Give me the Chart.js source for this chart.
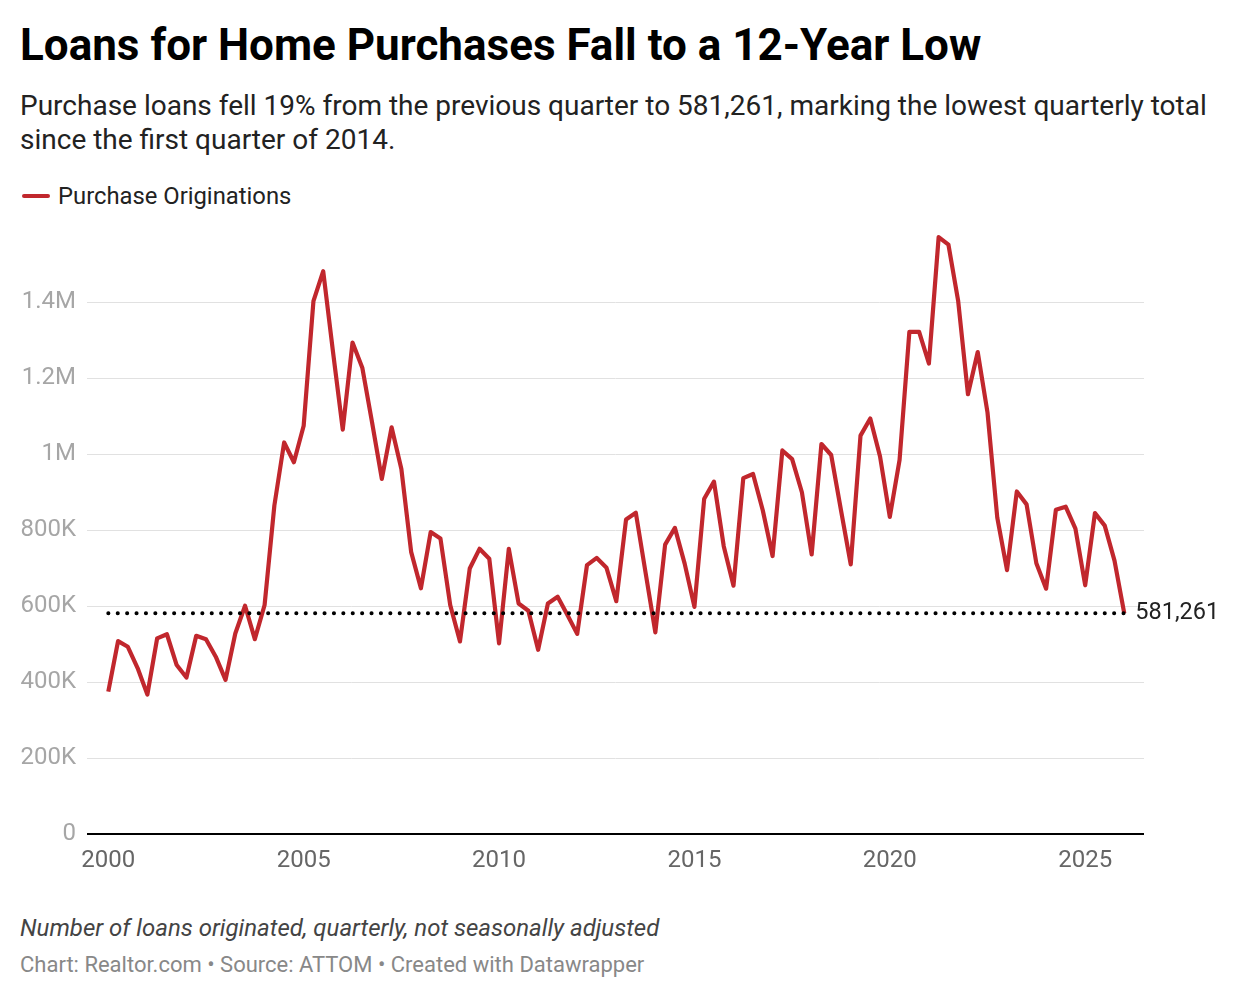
<!DOCTYPE html>
<html>
<head>
<meta charset="utf-8">
<script src="https://cdn.jsdelivr.net/npm/chart.js@4.4.1/dist/chart.umd.min.js"></script>
<style>
  html, body { margin: 0; padding: 0; background: #fff; }
  body { width: 1240px; height: 998px; position: relative; font-family: Roboto, "Noto Sans", sans-serif; overflow: hidden; }
  #title { position: absolute; left: 20px; top: 19px; font-size: 44px; line-height: 52px; font-weight: 700; color: #000; white-space: nowrap; }
  #subtitle { position: absolute; left: 20px; top: 89px; width: 1215px; font-size: 28px; line-height: 34px; color: #222; }
  #legend { position: absolute; left: 22px; top: 182px; font-size: 23.8px; line-height: 28px; color: #222; display: flex; align-items: center; }
  #legend .swatch { width: 28px; height: 4px; background: #c1272d; margin-right: 8px; border-radius: 2px; }
  #wrap { position: absolute; left: 0; top: 201px; width: 1240px; height: 690px; }
  #notes { position: absolute; left: 20px; top: 914px; font-size: 24px; line-height: 28px; font-style: italic; color: #444; }
  #source { position: absolute; left: 20px; top: 952px; font-size: 22px; line-height: 26px; color: #888; }
</style>
</head>
<body>
<div id="title">Loans for Home Purchases Fall to a 12-Year Low</div>
<div id="subtitle">Purchase loans fell 19% from the previous quarter to 581,261, marking the lowest quarterly total since the first quarter of 2014.</div>
<div id="legend"><span class="swatch"></span>Purchase Originations</div>
<div id="wrap"><canvas id="chart" width="1240" height="690"></canvas></div>
<div id="notes">Number of loans originated, quarterly, not seasonally adjusted</div>
<div id="source">Chart: Realtor.com • Source: ATTOM • Created with Datawrapper</div>

<script>
// Quarterly purchase originations, starting Q1 2000 (thousands)
const startYear = 2000;
const originations = [
  375, 508, 493, 437, 367, 515, 526, 445, 412, 522,
  513, 467, 406, 528, 601, 513, 603, 865, 1031, 979,
  1075, 1403, 1482, 1270, 1065, 1294, 1228, 1084, 935, 1071,
  961, 743, 647, 795, 778, 603, 507, 699, 751, 725,
  502, 751, 607, 588, 485, 607, 625, 577, 527, 708,
  727, 701, 613, 828, 846, 688, 531, 762, 806, 712,
  598, 883, 928, 758, 654, 937, 948, 852, 732, 1010,
  987, 900, 736, 1027, 998, 853, 710, 1049, 1094, 994,
  835, 985, 1322, 1322, 1239, 1572, 1552, 1403, 1158, 1269,
  1110, 833, 695, 902, 868, 713, 646, 854, 862, 804,
  655, 845, 812, 720, 581.261
];
const latestValue = 581261;
const xTicks = [2000, 2005, 2010, 2015, 2020, 2025];
const yTicks = [0, 200000, 400000, 600000, 800000, 1000000, 1200000, 1400000];

const points = originations.map((v, i) => ({ x: startYear + i / 4, y: v * 1000 }));
const lastX = points[points.length - 1].x;

function fmtY(v) {
  if (v === 0) return '0';
  if (v >= 1000000) return (v / 1000000) + 'M';
  return (v / 1000) + 'K';
}

// label next to the last point
const endLabel = {
  id: 'endLabel',
  afterDatasetsDraw(chart) {
    const meta = chart.getDatasetMeta(1);
    const pt = meta.data[meta.data.length - 1];
    const ctx = chart.ctx;
    ctx.save();
    ctx.font = '23.5px Roboto';
    ctx.fillStyle = '#222';
    ctx.textAlign = 'left';
    ctx.textBaseline = 'middle';
    ctx.fillText(latestValue.toLocaleString('en-US'), pt.x + 11, pt.y);
    ctx.restore();
  }
};

new Chart(document.getElementById('chart'), {
  type: 'line',
  data: {
    datasets: [
      {
        label: 'Latest level',
        data: [{ x: startYear, y: latestValue }, { x: lastX, y: latestValue }],
        borderColor: '#000',
        borderWidth: 4,
        borderDash: [0.1, 9.3],
        borderCapStyle: 'round',
        pointRadius: 0,
        fill: false
      },
      {
        label: 'Purchase Originations',
        data: points,
        borderColor: '#c1272d',
        borderWidth: 4.2,
        borderJoinStyle: 'round',
        pointRadius: 0,
        tension: 0,
        fill: false
      }
    ]
  },
  options: {
    responsive: false,
    animation: false,
    layout: { padding: { top: 23, right: 96, bottom: 0, left: 0 } },
    plugins: { legend: { display: false }, tooltip: { enabled: false } },
    scales: {
      x: {
        type: 'linear',
        min: 1999.455,
        max: 2026.505,
        afterBuildTicks: s => { s.ticks = xTicks.map(v => ({ value: v })); },
        afterFit: s => { s.height = 57; },
        grid: { display: false, drawTicks: false },
        border: { display: false },
        ticks: {
          padding: 13,
          color: '#666',
          font: { family: 'Roboto', size: 24 },
          maxRotation: 0,
          callback: v => String(v)
        }
      },
      y: {
        min: 0,
        max: 1600000,
        afterBuildTicks: s => { s.ticks = yTicks.map(v => ({ value: v })); },
        afterFit: s => { s.width = 87; },
        grid: {
          drawTicks: false,
          color: c => c.tick && c.tick.value === 0 ? '#000' : '#e1e1e1',
          lineWidth: c => c.tick && c.tick.value === 0 ? 2 : 1
        },
        border: { display: false },
        ticks: {
          padding: 11,
          color: '#a6a6a6',
          font: { family: 'Roboto', size: 24 },
          callback: v => fmtY(v)
        }
      }
    }
  },
  plugins: [endLabel]
});
</script>
</body>
</html>
